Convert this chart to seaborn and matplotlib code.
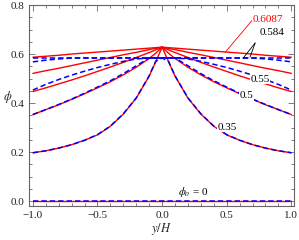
import numpy as np
import pandas as pd
import matplotlib
matplotlib.use("Agg")
import matplotlib.pyplot as plt
import seaborn as sns

# right half of the channel, profiles are symmetric about y/H = 0
y_half = [0.0, 0.05, 0.1, 0.2, 0.3, 0.4, 0.5, 0.6, 0.7, 0.8, 0.9, 1.0]

# red solid curves
red_6087 = [0.628, 0.626, 0.624, 0.620, 0.616, 0.612, 0.608, 0.604, 0.600, 0.595, 0.591, 0.587]
red_584 = [0.628, 0.623, 0.618, 0.607, 0.597, 0.586, 0.575, 0.564, 0.553, 0.542, 0.532, 0.521]
red_55 = [0.628, 0.617, 0.606, 0.586, 0.566, 0.547, 0.529, 0.511, 0.494, 0.478, 0.462, 0.447]
red_5 = [0.628, 0.603, 0.582, 0.546, 0.515, 0.487, 0.462, 0.438, 0.415, 0.393, 0.373, 0.353]
red_35 = [0.628, 0.568, 0.510, 0.420, 0.355, 0.305, 0.270, 0.248, 0.230, 0.216, 0.205, 0.197]
red_0 = [0.0] * 12

# blue dashed curves (capped at 0.584)
blue_6087 = [0.584] * 12
blue_584 = [0.584, 0.584, 0.584, 0.584, 0.584, 0.584, 0.584, 0.584, 0.584, 0.580, 0.575, 0.568]
blue_55 = [0.584, 0.584, 0.584, 0.580, 0.570, 0.558, 0.545, 0.530, 0.514, 0.496, 0.476, 0.453]
blue_5 = [0.584, 0.584, 0.584, 0.552, 0.520, 0.491, 0.465, 0.440, 0.416, 0.394, 0.373, 0.353]
blue_35 = [0.584, 0.570, 0.511, 0.421, 0.356, 0.306, 0.271, 0.248, 0.230, 0.216, 0.205, 0.197]
blue_0 = [0.0] * 12


def mirror(vals):
    v = list(vals)
    return v[::-1] + v[1:]


y_full = [-v for v in y_half[::-1]] + y_half[1:]

sns.set_style("ticks")
plt.rcParams['font.family'] = ['Liberation Serif', 'DejaVu Serif']
plt.rcParams['mathtext.fontset'] = 'stix'

fig = plt.figure(figsize=(2.99, 2.40), dpi=100)
ax = fig.add_axes([0.097, 0.142, 0.886, 0.837])

for curve in [red_6087, red_584, red_55, red_5, red_35, red_0]:
    sns.lineplot(x=y_full, y=mirror(curve), ax=ax, color='#ff0000', lw=1.0,
                 estimator=None, sort=False)
for curve in [blue_6087, blue_584, blue_55, blue_5, blue_35, blue_0]:
    sns.lineplot(x=y_full, y=mirror(curve), ax=ax, color='#0000ff', lw=1.1,
                 dashes=False, linestyle=(0, (3.5, 2.0)), estimator=None, sort=False)

ax.set_xlim(-1.03, 1.02)
ax.set_ylim(-0.02, 0.8)
ax.set_xticks([-1.0, -0.5, 0.0, 0.5, 1.0])
ax.set_xticklabels(['\u22121.0', '\u22120.5', '0.0', '0.5', '1.0'])
ax.set_yticks([0.0, 0.2, 0.4, 0.6, 0.8])
ax.set_yticklabels(['0.0', '0.2', '0.4', '0.6', '0.8'])
ax.set_xticks(np.arange(-1.0, 1.01, 0.1), minor=True)
ax.set_yticks(np.arange(0.0, 0.801, 0.05), minor=True)
ax.tick_params(which='both', direction='in', top=True, right=True,
               colors='#666666', labelcolor='#222222', labelsize=8, width=0.6)
ax.tick_params(which='major', length=4)
ax.tick_params(which='minor', length=2)
for s in ax.spines.values():
    s.set_color('#666666')
    s.set_linewidth(0.8)

ax.set_xlabel(r'$y/H$', fontsize=9, labelpad=1)
ax.set_ylabel(r'$\phi$', fontsize=9, labelpad=2, rotation=0)

box = dict(facecolor='white', edgecolor='none', pad=0.5)
ax.text(0.82, 0.739, '0.6087', color='#ff0000', fontsize=8, ha='center', va='center')
ax.plot([0.694, 0.488], [0.736, 0.607], color='#ff0000', lw=0.6)
ax.text(0.848, 0.686, '0.584', color='black', fontsize=8, ha='center', va='center')
ax.plot([0.72, 0.625], [0.645, 0.582], color='black', lw=0.6)
ax.plot([0.72, 0.68], [0.645, 0.587], color='black', lw=0.6)
ax.text(0.758, 0.498, '0.55', color='black', fontsize=8, ha='center', va='center', bbox=box)
ax.text(0.655, 0.429, '0.5', color='black', fontsize=8, ha='center', va='center', bbox=box)
ax.text(0.504, 0.302, '0.35', color='black', fontsize=8, ha='center', va='center', bbox=box)
ax.text(0.242, 0.037, r'$\phi_o$ = 0', color='black', fontsize=8, ha='center', va='center')

fig.savefig('out.png', dpi=100)
